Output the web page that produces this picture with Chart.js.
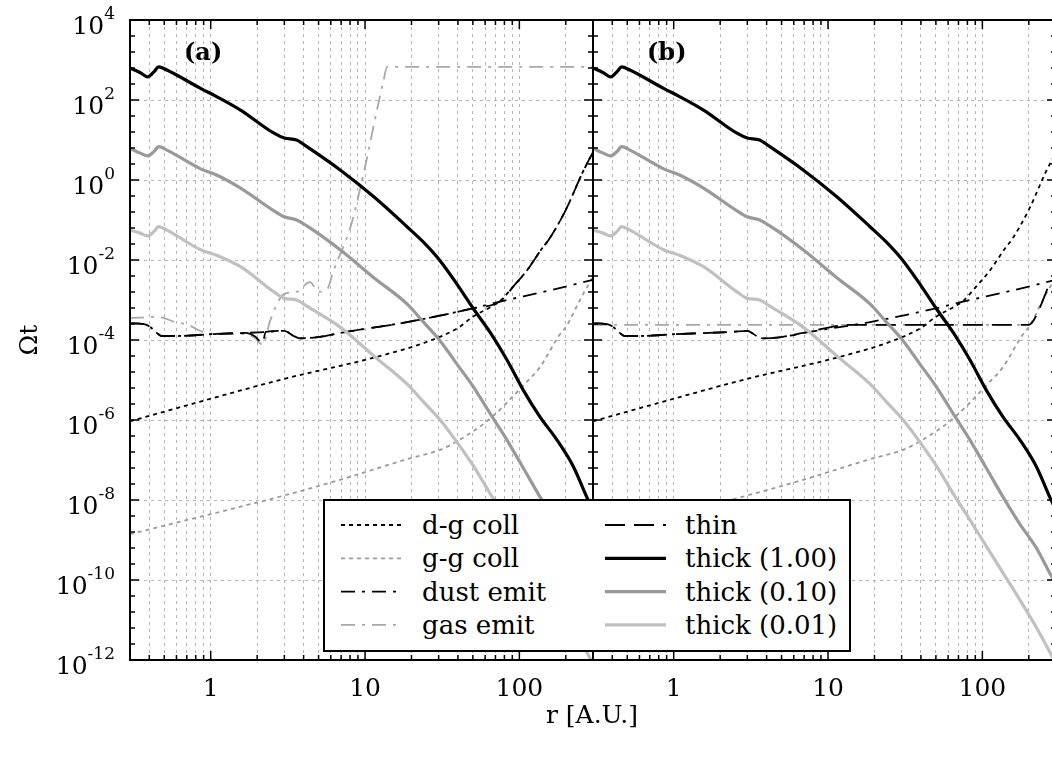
<!DOCTYPE html>
<html>
<head>
<meta charset="utf-8">
<title>Ωt vs r</title>
<script src="https://cdn.jsdelivr.net/npm/chart.js@4.4.1/dist/chart.umd.min.js"></script>
<style>
  html, body { margin: 0; padding: 0; background: #fff; overflow: hidden; }
  #wrap { position: relative; width: 1052px; height: 758px; overflow: hidden; font-family: "DejaVu Serif", serif; }
  canvas { position: absolute; top: 0; }
  #chartA { left: 0; }
  #chartB { left: 580px; }
  #xtitle { position: absolute; left: 492px; width: 200px; top: 700px; text-align: center; font-size: 25px; }
  #legend { position: absolute; left: 323px; top: 499px; }
</style>
</head>
<body>
<div id="wrap">
  <canvas id="chartA" width="600" height="758"></canvas>
  <canvas id="chartB" width="480" height="758"></canvas>
  <div id="xtitle">r [A.U.]</div>
  <svg id="legend" width="528" height="153"></svg>
</div>
<script>
// values: r in A.U., Ωt dimensionless

// thick cooling curves share one r grid
const rThick = [0.3, 0.35, 0.39, 0.43, 0.46, 0.52, 0.86, 1.1, 1.56, 2.57, 3.0, 3.6, 4.2, 6.9, 11.4, 18.7, 24, 30.7, 39.4, 50, 65, 83, 106, 136, 175, 224, 273, 300];
const thick100 = [631, 479, 380, 513, 676, 562, 195, 120, 56, 14.8, 11.2, 10, 6.8, 1.78, 0.38, 0.068, 0.0275, 9.5e-3, 2.5e-3, 6.3e-4, 1.5e-4, 3.2e-5, 5.6e-6, 1.2e-6, 3.2e-7, 6.8e-8, 1.2e-8, 5.6e-9];
const thick010 = [6.2, 4.7, 4.0, 5.2, 6.8, 5.6, 1.9, 1.32, 0.63, 0.17, 0.12, 0.1, 0.071, 0.018, 3.6e-3, 8e-4, 2.75e-4, 9.5e-5, 2.5e-5, 7e-6, 1.4e-6, 3.2e-7, 6.3e-8, 1.2e-8, 2.5e-9, 6.3e-10, 1.5e-10, 8e-11];
const thick001 = [0.056, 0.047, 0.04, 0.052, 0.068, 0.056, 0.018, 0.013, 6.8e-3, 1.6e-3, 1.1e-3, 1e-3, 7e-4, 2.1e-4, 4e-5, 8e-6, 2.8e-6, 1.0e-6, 2.8e-7, 7.4e-8, 1.4e-8, 3.2e-9, 7e-10, 1.5e-10, 3.2e-11, 6.5e-12, 1.6e-12, 8e-13];

// collision times
const rDg = [0.3, 1, 3, 10, 25, 40, 50, 67, 75, 95, 110, 141, 155, 200, 256, 300];
const dgColl = [9.3e-7, 3.4e-6, 1.07e-5, 3.2e-5, 8.9e-5, 2e-4, 3.8e-4, 7.1e-4, 9.5e-4, 2.6e-3, 5e-3, 0.02, 0.032, 0.18, 1.5, 5];
const rGg = [0.3, 1.56, 3, 6.9, 19.5, 30.7, 41, 65, 108, 136, 181, 203, 250, 300];
const ggColl = [1.4e-9, 6.8e-9, 1.3e-8, 3.2e-8, 1.1e-7, 1.8e-7, 3.2e-7, 1.1e-6, 7.9e-6, 2.1e-5, 1.3e-4, 2.3e-4, 1.1e-3, 3.8e-3];

// emission times
const rDust = [0.3, 0.37, 0.4, 0.44, 0.48, 0.61, 1.0, 1.68, 2.4, 3.0, 3.4, 3.8, 5.1, 6.9, 18.7, 50, 75, 150, 300];
const dustEmit = [2.6e-4, 2.5e-4, 2.2e-4, 1.6e-4, 1.26e-4, 1.26e-4, 1.4e-4, 1.5e-4, 1.6e-4, 1.7e-4, 1.3e-4, 1.1e-4, 1.2e-4, 1.5e-4, 2.8e-4, 6.2e-4, 9.1e-4, 1.66e-3, 3.2e-3];
const rGasA = [0.3, 0.45, 0.59, 0.71, 0.89, 1.2, 1.68, 1.95, 2.17, 2.44, 2.98, 3.6, 4.4, 5.0, 5.7, 6.27, 8.06, 9.8, 11.95, 13.2, 13.9, 300];
const gasEmitA = [3.5e-4, 3.8e-4, 2.8e-4, 2.4e-4, 1.6e-4, 1.4e-4, 1.4e-4, 1.1e-4, 7.6e-5, 3.2e-4, 1.4e-3, 1.6e-3, 2.8e-3, 1.6e-3, 1.9e-3, 5.6e-3, 0.068, 1.48, 56, 316, 676, 676];
const rGasB = [0.3, 200];
const gasEmitB = [2.4e-4, 2.4e-4];

// optically thin
const rThinA = [0.3, 0.37, 0.4, 0.44, 0.48, 0.61, 1.0, 1.68, 1.95, 2.17, 2.27, 3.0, 3.4, 3.8, 5.1, 6.9, 18.7, 50, 75, 95, 110, 141, 155, 200, 256, 300];
const thinA = [2.6e-4, 2.5e-4, 2.2e-4, 1.6e-4, 1.26e-4, 1.26e-4, 1.4e-4, 1.5e-4, 1.2e-4, 8.3e-5, 1.6e-4, 1.7e-4, 1.3e-4, 1.1e-4, 1.2e-4, 1.5e-4, 2.8e-4, 6.2e-4, 9.3e-4, 2.6e-3, 5e-3, 0.02, 0.032, 0.18, 1.5, 5];
const rThinB = [0.3, 0.37, 0.4, 0.44, 0.48, 0.61, 1.0, 1.68, 2.4, 3.0, 3.4, 3.8, 5.1, 6.9, 14, 200, 216, 276];
const thinB = [2.6e-4, 2.5e-4, 2.2e-4, 1.6e-4, 1.26e-4, 1.26e-4, 1.4e-4, 1.5e-4, 1.6e-4, 1.7e-4, 1.3e-4, 1.1e-4, 1.2e-4, 1.5e-4, 2.4e-4, 2.4e-4, 3.2e-4, 2.9e-3];

// axes
const xGridAt = [0.4, 0.5, 0.6, 0.7, 0.8, 0.9, 1, 2, 3, 4, 5, 6, 7, 8, 9, 10, 20, 30, 40, 50, 60, 70, 80, 90, 100, 200];
const xTickValues = [1, 10, 100];
const xTickLabels = ['1', '10', '100'];
const yTickValues = [1e4, 1e2, 1, 1e-2, 1e-4, 1e-6, 1e-8, 1e-10, 1e-12];
const yTickExps = ['4', '2', '0', '-2', '-4', '-6', '-8', '-10', '-12'];

const styles = {
    dg:   { label: 'd-g coll',     color: '#000',    width: 1.8, dash: [4, 4] },
    gg:   { label: 'g-g coll',     color: '#9a9a9a', width: 1.8, dash: [4, 4] },
    dust: { label: 'dust emit',    color: '#000',    width: 1.8, dash: [14, 7, 3, 7] },
    gas:  { label: 'gas emit',     color: '#a8a8a8', width: 1.8, dash: [14, 7, 3, 7] },
    thin: { label: 'thin',         color: '#000',    width: 1.8, dash: [20, 9] },
    t1:   { label: 'thick (1.00)', color: '#000',    width: 3.2, dash: [] },
    t2:   { label: 'thick (0.10)', color: '#999',    width: 3.2, dash: [] },
    t3:   { label: 'thick (0.01)', color: '#c0c0c0', width: 3.2, dash: [] }
};

function ds(key, xs, ys, order) {
    const s = styles[key];
    return {
        label: s.label,
        data: xs.map((x, i) => ({ x: x, y: ys[i] })),
        borderColor: s.color,
        borderWidth: s.width,
        borderDash: s.dash,
        pointRadius: 0,
        fill: false,
        cubicInterpolationMode: 'monotone',
        order: order
    };
}

// tick marks, frame and tick labels drawn from the chart's own scales
const framePlugin = {
    id: 'frame',
    afterDraw(chart, args, opts) {
        const { ctx, chartArea: a, scales: { x, y } } = chart;
        ctx.save();
        ctx.strokeStyle = '#000';
        ctx.lineWidth = 1.5;
        ctx.beginPath();
        xGridAt.concat([300]).forEach(v => {
            const px = x.getPixelForValue(v);
            const len = xTickValues.includes(v) ? 9 : 5;
            ctx.moveTo(px, a.top); ctx.lineTo(px, a.top + len);
            ctx.moveTo(px, a.bottom); ctx.lineTo(px, a.bottom - len);
        });
        for (let k = 0; k <= 40; k++) {
            const py = y.getPixelForValue(Math.pow(10, -12 + 0.4 * k));
            const len = k % 5 === 0 ? 9 : 5;
            ctx.moveTo(a.left, py); ctx.lineTo(a.left + len, py);
            ctx.moveTo(a.right, py); ctx.lineTo(a.right - len, py);
        }
        ctx.stroke();

        ctx.lineWidth = 2;
        ctx.strokeRect(a.left, a.top, a.right - a.left, a.bottom - a.top);

        ctx.fillStyle = '#000';
        ctx.font = '25px "DejaVu Serif"';
        ctx.textAlign = 'center';
        ctx.textBaseline = 'middle';
        xTickValues.forEach((v, i) => {
            ctx.fillText(xTickLabels[i], x.getPixelForValue(v), a.bottom + 29);
        });

        if (opts.yLabels) {
            ctx.textAlign = 'left';
            ctx.textBaseline = 'alphabetic';
            yTickValues.forEach((v, i) => {
                const py = y.getPixelForValue(v);
                ctx.font = '17px "DejaVu Serif"';
                const ew = ctx.measureText(yTickExps[i]).width;
                ctx.font = '25px "DejaVu Serif"';
                const bw = ctx.measureText('10').width;
                const right = a.left - 15;
                ctx.fillText('10', right - ew - bw, py + 14);
                ctx.font = '17px "DejaVu Serif"';
                ctx.fillText(yTickExps[i], right - ew, py - 1);
            });
            ctx.save();
            ctx.font = '25px "DejaVu Serif"';
            ctx.textAlign = 'center';
            ctx.textBaseline = 'middle';
            ctx.translate(30, (a.top + a.bottom) / 2);
            ctx.rotate(-Math.PI / 2);
            ctx.fillText('Ωt', 0, 0);
            ctx.restore();
        }

        ctx.font = 'bold 24px "DejaVu Serif"';
        ctx.textAlign = 'left';
        ctx.textBaseline = 'middle';
        ctx.fillText(opts.tag, a.left + 54, a.top + 34);
        ctx.restore();
    }
};

function makeChart(id, datasets, padding, opts) {
    const grid = { color: '#b4b4b4', lineWidth: 1, drawTicks: false };
    return new Chart(document.getElementById(id), {
        type: 'line',
        data: { datasets: datasets },
        options: {
            responsive: false,
            animation: false,
            layout: { padding: padding },
            scales: {
                x: {
                    type: 'logarithmic', min: 0.3, max: 300,
                    afterBuildTicks: s => { s.ticks = xGridAt.map(v => ({ value: v })); },
                    ticks: { display: false },
                    grid: grid,
                    border: { display: false, dash: [3, 4] }
                },
                y: {
                    type: 'logarithmic', min: 1e-12, max: 1e4,
                    afterBuildTicks: s => { s.ticks = yTickValues.slice(1, -1).map(v => ({ value: v })); },
                    ticks: { display: false },
                    grid: grid,
                    border: { display: false, dash: [3, 4] }
                }
            },
            plugins: {
                legend: { display: false },
                tooltip: { enabled: false },
                frame: opts
            }
        },
        plugins: [framePlugin]
    });
}

makeChart('chartA', [
    ds('t1', rThick, thick100, 0),
    ds('t2', rThick, thick010, 1),
    ds('t3', rThick, thick001, 2),
    ds('thin', rThinA, thinA, 3),
    ds('dust', rDust, dustEmit, 4),
    ds('dg', rDg, dgColl, 5),
    ds('gas', rGasA, gasEmitA, 6),
    ds('gg', rGg, ggColl, 7)
], { left: 130, right: 7, top: 20, bottom: 98 }, { yLabels: true, tag: '(a)' });

makeChart('chartB', [
    ds('t1', rThick, thick100, 0),
    ds('t2', rThick, thick010, 1),
    ds('t3', rThick, thick001, 2),
    ds('thin', rThinB, thinB, 3),
    ds('dust', rDust, dustEmit, 4),
    ds('dg', rDg, dgColl, 5),
    ds('gas', rGasB, gasEmitB, 6),
    ds('gg', rGg, ggColl, 7)
], { left: 13, right: 4, top: 20, bottom: 98 }, { yLabels: false, tag: '(b)' });

// legend box spanning both panels
const legendRows = [
    ['dg', 0, 0], ['gg', 0, 1], ['dust', 0, 2], ['gas', 0, 3],
    ['thin', 1, 0], ['t1', 1, 1], ['t2', 1, 2], ['t3', 1, 3]
];
const svgNS = 'http://www.w3.org/2000/svg';
const svg = document.getElementById('legend');
function el(tag, attrs, text) {
    const e = document.createElementNS(svgNS, tag);
    Object.keys(attrs).forEach(k => e.setAttribute(k, attrs[k]));
    if (text) e.textContent = text;
    svg.appendChild(e);
    return e;
}
el('rect', { x: 1, y: 1, width: 526, height: 151, fill: '#fff', stroke: '#000', 'stroke-width': 2 });
legendRows.forEach(([key, col, row]) => {
    const s = styles[key];
    const cy = 26 + row * 33.3;
    const x0 = col === 0 ? 18 : 282;
    el('line', {
        x1: x0, y1: cy, x2: x0 + 61, y2: cy,
        stroke: s.color, 'stroke-width': s.width,
        'stroke-dasharray': s.dash.length ? s.dash.join(' ') : 'none'
    });
    el('text', {
        x: col === 0 ? 99 : 362, y: cy, 'dominant-baseline': 'central',
        'font-family': 'DejaVu Serif', 'font-size': 26, fill: '#000'
    }, s.label);
});
</script>
</body>
</html>
